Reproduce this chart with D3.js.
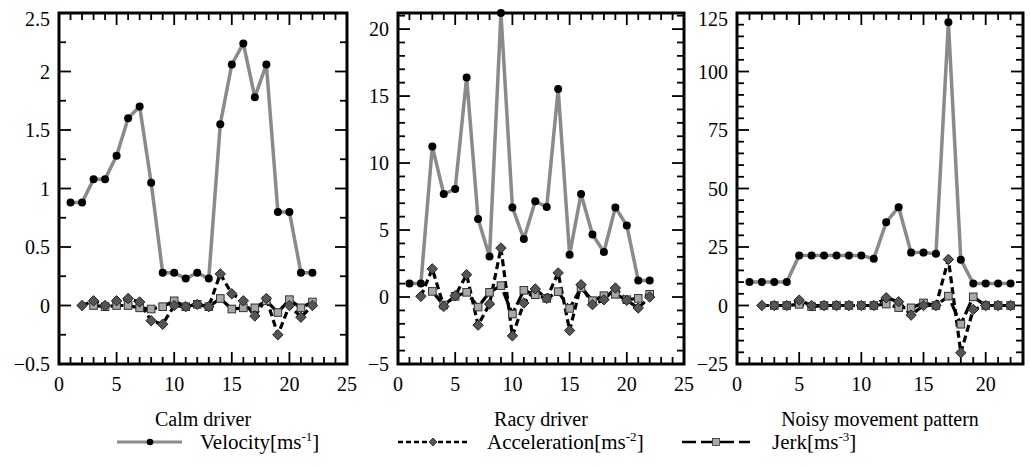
<!DOCTYPE html>
<html>
<head>
<meta charset="utf-8">
<script src="https://cdn.jsdelivr.net/npm/d3@7"></script>
</head>
<body style="margin:0">
<svg id="chart" width="1030" height="466"></svg>
<script>
// ---- data ----
const steps = [1,2,3,4,5,6,7,8,9,10,11,12,13,14,15,16,17,18,19,20,21,22];

const calmVelocity     = [0.88,0.88,1.08,1.08,1.28,1.60,1.70,1.05,0.28,0.28,0.23,0.28,0.23,1.55,2.06,2.24,1.78,2.06,0.80,0.80,0.28,0.28];
const calmAcceleration = [null,0.00,0.04,0.00,0.04,0.06,0.03,-0.13,-0.16,0.00,-0.01,0.01,-0.01,0.27,0.10,0.04,-0.09,0.06,-0.25,0.00,-0.10,0.00];
const calmJerk         = [null,null,0.00,-0.01,0.00,0.00,-0.02,-0.03,-0.01,0.04,-0.01,0.01,-0.01,0.06,-0.03,-0.02,-0.02,0.04,-0.06,0.05,-0.02,0.03];

const racyVelocity     = [1.0,1.0,11.24,7.69,8.06,16.39,5.82,3.03,21.2,6.69,4.33,7.15,6.72,15.52,3.16,7.69,4.67,3.36,6.69,5.34,1.24,1.24];
const racyAcceleration = [null,0.05,2.10,-0.70,0.10,1.67,-2.10,-0.52,3.66,-2.90,-0.45,0.60,-0.10,1.80,-2.50,0.92,-0.57,-0.20,0.67,-0.25,-0.82,0.00];
const racyJerk         = [null,null,0.42,-0.60,0.05,0.35,-0.75,0.35,0.85,-1.27,0.50,0.17,-0.10,0.40,-0.85,0.70,-0.27,0.10,0.20,-0.20,-0.10,0.20];

const noisyVelocity     = [10,10,10,10,21.4,21.4,21.4,21.4,21.4,21.4,20,35.6,42,22.6,22.6,22.1,121,19.6,9.4,9.4,9.4,9.4];
const noisyAcceleration = [null,0,0,0,2.3,0,0,0,0,0,0,3.3,1.6,-4.1,0,0,19.7,-20.2,-1.7,0,0,0];
const noisyJerk         = [null,null,0,0,0.5,-0.5,0,0,0,0,0,0.6,-0.9,-1.0,1.1,0,4.0,-8.0,3.7,0,0,0];

const panelTitles = ["Calm driver", "Racy driver", "Noisy movement pattern"];
const xDomains = [[0,25],[0,25],[0,23]];
const yDomains = [[-0.5,2.5],[-5,21.2],[-25,125]];
const xMajorTicks = [[0,5,10,15,20,25],[0,5,10,15,20,25],[0,5,10,15,20]];
const yMajorTicks = [[-0.5,0,0.5,1,1.5,2,2.5],[-5,0,5,10,15,20],[-25,0,25,50,75,100,125]];
const yMinorStep = [0.25, 1, 5];
const legendLabels = [["Velocity[ms","-1","]"],["Acceleration[ms","-2","]"],["Jerk[ms","-3","]"]];

// ---- layout ----
const panels = [
  {left: 59,  right: 347,  top: 13, bottom: 364},
  {left: 398, right: 684,  top: 13, bottom: 364},
  {left: 737, right: 1023, top: 13, bottom: 364}
];
const seriesSets = [
  [calmVelocity, calmAcceleration, calmJerk],
  [racyVelocity, racyAcceleration, racyJerk],
  [noisyVelocity, noisyAcceleration, noisyJerk]
];

const svg = d3.select("#chart");
const fmt = v => (v < 0 ? "\u2212" + String(-v) : String(v));
function diamondPath(s) { return `M0,${-s}L${s},0L0,${s}L${-s},0Z`; }
function addText(sel, size) {
  return sel.append("text")
    .attr("font-size", size)
    .attr("font-family", "Liberation Serif")
    .style("font-family", '"Liberation Serif"');
}

panels.forEach((p, i) => {
  const x = d3.scaleLinear().domain(xDomains[i]).range([p.left, p.right]);
  const y = d3.scaleLinear().domain(yDomains[i]).range([p.bottom, p.top]);
  const g = svg.append("g");

  const xMinor = d3.range(Math.ceil(xDomains[i][0]), Math.floor(xDomains[i][1]) + 1e-9, 1);
  const yMin = yDomains[i][0], yMax = yDomains[i][1];
  const yMinor = d3.range(0, Math.floor((yMax - yMin) / yMinorStep[i] + 1e-9) + 1).map(k => yMin + k * yMinorStep[i]);

  const tickG = g.append("g").attr("stroke", "#000").attr("stroke-width", 1.8);
  xMinor.forEach(v => {
    const isMajor = xMajorTicks[i].includes(v);
    const len = isMajor ? 12 : 7;
    tickG.append("line").attr("x1", x(v)).attr("x2", x(v)).attr("y1", p.bottom).attr("y2", p.bottom - len);
    tickG.append("line").attr("x1", x(v)).attr("x2", x(v)).attr("y1", p.top).attr("y2", p.top + len);
  });
  yMinor.forEach(v => {
    const isMajor = yMajorTicks[i].some(t => Math.abs(t - v) < 1e-9);
    const len = isMajor ? 12 : 7;
    tickG.append("line").attr("x1", p.left).attr("x2", p.left + len).attr("y1", y(v)).attr("y2", y(v));
    tickG.append("line").attr("x1", p.right).attr("x2", p.right - len).attr("y1", y(v)).attr("y2", y(v));
  });

  g.append("rect").attr("x", p.left).attr("y", p.top)
    .attr("width", p.right - p.left).attr("height", p.bottom - p.top)
    .attr("fill", "none").attr("stroke", "#000").attr("stroke-width", 3);

  xMajorTicks[i].forEach(v => {
    addText(g, 20).attr("x", x(v)).attr("y", p.bottom + 27)
      .attr("text-anchor", "middle").text(fmt(v));
  });
  yMajorTicks[i].forEach(v => {
    const yy = Math.max(y(v), p.top + 6);
    addText(g, 20).attr("x", p.left - 9).attr("y", yy + 7)
      .attr("text-anchor", "end").text(fmt(v));
  });

  addText(g, 20).attr("x", (p.left + p.right) / 2).attr("y", 426)
    .attr("text-anchor", "middle").text(panelTitles[i]);

  const [vel, acc, jerk] = seriesSets[i];
  const pts = arr => steps.map((s, k) => ({x: s, v: arr[k]})).filter(d => d.v !== null);
  const line = d3.line().x(d => x(d.x)).y(d => y(d.v));

  g.append("path").attr("d", line(pts(vel))).attr("fill", "none")
    .attr("stroke", "#8a8a8a").attr("stroke-width", 3.5).attr("stroke-linejoin", "round");
  g.selectAll(null).data(pts(vel)).enter().append("circle")
    .attr("cx", d => x(d.x)).attr("cy", d => y(d.v)).attr("r", 4).attr("fill", "#000");

  g.append("path").attr("d", line(pts(jerk))).attr("fill", "none")
    .attr("stroke", "#000").attr("stroke-width", 3.2).attr("stroke-dasharray", "13,4");
  g.append("path").attr("d", line(pts(acc))).attr("fill", "none")
    .attr("stroke", "#000").attr("stroke-width", 3.2).attr("stroke-dasharray", "7,4");
  g.selectAll(null).data(pts(jerk)).enter().append("rect")
    .attr("x", d => x(d.x) - 3.8).attr("y", d => y(d.v) - 3.8)
    .attr("width", 7.6).attr("height", 7.6)
    .attr("fill", "#a8a8a8").attr("stroke", "#333").attr("stroke-width", 1);
  g.selectAll(null).data(pts(acc)).enter().append("path")
    .attr("transform", d => `translate(${x(d.x)},${y(d.v)})`)
    .attr("d", diamondPath(5.2))
    .attr("fill", "#555").attr("stroke", "#222").attr("stroke-width", 1);
});

// ---- legend ----
const legY = 442;
const leg = svg.append("g");
leg.append("line").attr("x1", 117).attr("x2", 182).attr("y1", legY).attr("y2", legY)
  .attr("stroke", "#8a8a8a").attr("stroke-width", 3);
leg.append("circle").attr("cx", 150).attr("cy", legY).attr("r", 3.3).attr("fill", "#000");
leg.append("line").attr("x1", 398).attr("x2", 467).attr("y1", legY).attr("y2", legY)
  .attr("stroke", "#000").attr("stroke-width", 2.6).attr("stroke-dasharray", "5,3");
leg.append("path").attr("transform", `translate(433,${legY})`).attr("d", diamondPath(4))
  .attr("fill", "#555").attr("stroke", "#222").attr("stroke-width", 0.8);
leg.append("line").attr("x1", 682).attr("x2", 750).attr("y1", legY).attr("y2", legY)
  .attr("stroke", "#000").attr("stroke-width", 2.6).attr("stroke-dasharray", "14,5");
leg.append("rect").attr("x", 712.5).attr("y", legY - 3.5).attr("width", 7).attr("height", 7)
  .attr("fill", "#a8a8a8").attr("stroke", "#333").attr("stroke-width", 0.8);

const legTextX = [200, 487, 772];
legendLabels.forEach((lab, k) => {
  const t = addText(leg, 21).attr("x", legTextX[k]).attr("y", legY + 7);
  t.append("tspan").text(lab[0]);
  t.append("tspan").attr("font-size", 13).attr("dy", -8).text(lab[1]);
  t.append("tspan").attr("dy", 8).text(lab[2]);
});
</script>
</body>
</html>
